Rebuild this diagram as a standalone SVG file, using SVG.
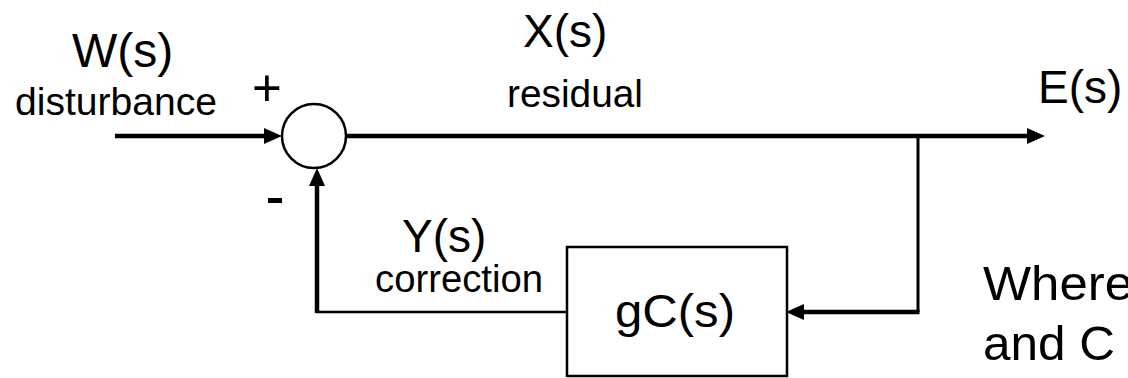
<svg xmlns="http://www.w3.org/2000/svg" width="1128" height="378" viewBox="0 0 1128 378">
  <style>
    text { font-family: "Liberation Sans", Arial, sans-serif; fill: #000; }
    .big { font-size: 46px; }
    .small { font-size: 38px; }
    .thick { stroke: #000; stroke-width: 4.5; fill: none; }
    .thin { stroke: #000; stroke-width: 2.5; fill: none; }
    .shape { stroke: #000; stroke-width: 2.5; fill: #fff; }
  </style>
  <defs>
    <marker id="head" viewBox="0 -8 18 16" refX="0" refY="0" markerWidth="18" markerHeight="16" markerUnits="userSpaceOnUse" orient="auto" overflow="visible">
      <path d="M0,-8 L18,0 L0,8 Z" fill="#000"/>
    </marker>
  </defs>

  <!-- signal connectors -->
  <g id="connectors">
    <line class="thick" x1="115" y1="136" x2="264" y2="136" marker-end="url(#head)"/>
    <line class="thick" x1="346" y1="136" x2="1027" y2="136" marker-end="url(#head)"/>
    <polyline class="thin" points="918,136 918,312" style="stroke-width:3"/>
    <line class="thick" x1="919.5" y1="312" x2="804" y2="312" marker-end="url(#head)"/>
    <line class="thin" x1="567" y1="312" x2="316" y2="312"/>
    <line class="thick" x1="317" y1="313" x2="317" y2="186" marker-end="url(#head)"/>
  </g>

  <!-- summing junction -->
  <g id="sum">
    <circle class="shape" cx="314" cy="136" r="32"/>
    <text x="252" y="106" style="font-size:51px">+</text>
    <rect x="268" y="198" width="14" height="5" fill="#000"/>
  </g>

  <!-- feedback block -->
  <g id="controller">
    <rect class="shape" x="567" y="247" width="220" height="129"/>
    <text class="big" x="615" y="327" textLength="120" lengthAdjust="spacingAndGlyphs">gC(s)</text>
  </g>

  <!-- signal labels -->
  <g id="label-w">
    <text class="big" x="72" y="67" style="font-size:48px">W(s)</text>
    <text class="small" x="15" y="115" textLength="202" lengthAdjust="spacingAndGlyphs">disturbance</text>
  </g>
  <g id="label-x">
    <text class="big" x="523" y="47">X(s)</text>
    <text class="small" x="507" y="107" textLength="136" lengthAdjust="spacingAndGlyphs">residual</text>
  </g>
  <g id="label-y">
    <text class="big" x="402" y="252">Y(s)</text>
    <text class="small" x="375" y="292" textLength="168" lengthAdjust="spacingAndGlyphs">correction</text>
  </g>
  <g id="label-e">
    <text class="big" x="1038" y="103">E(s)</text>
  </g>

  <!-- note -->
  <g id="note">
    <text x="983" y="300" style="font-size:48px" textLength="150" lengthAdjust="spacingAndGlyphs">Where</text>
    <text x="983" y="360" style="font-size:48px" textLength="132" lengthAdjust="spacingAndGlyphs">and C</text>
  </g>
</svg>
